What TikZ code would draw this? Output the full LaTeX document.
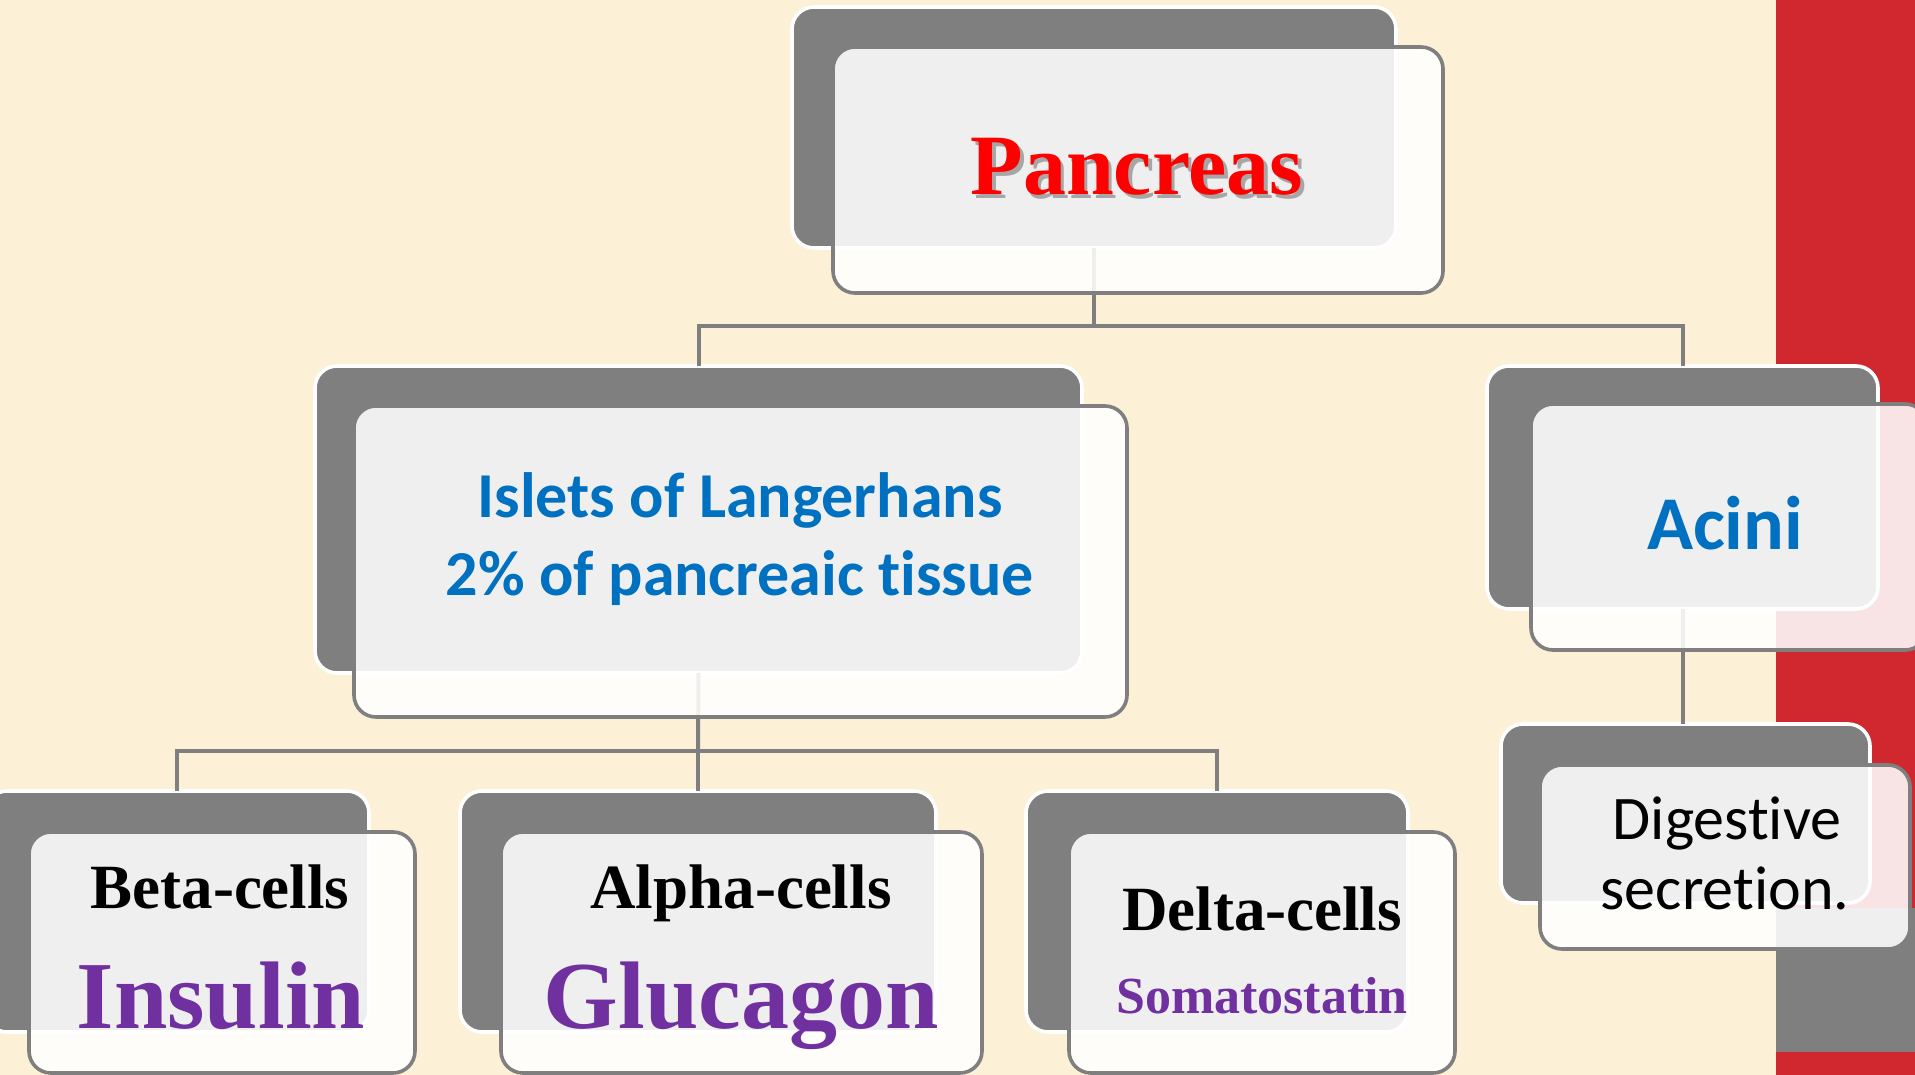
\documentclass[tikz,border=0pt]{standalone}
\usepackage{fontspec}
\setmainfont{Liberation Serif}
\newfontfamily\carlito[Ligatures={NoCommon}, RawFeature={-liga;-clig}]{Carlito}
\definecolor{bgcream}{RGB}{252,240,215}
\definecolor{bandred}{RGB}{209,39,46}
\definecolor{boxgray}{RGB}{127,127,127}
\definecolor{txtblue}{RGB}{0,112,192}
\definecolor{txtpurple}{RGB}{112,48,160}
\tikzset{
  backbox/.style={rectangle, rounded corners=11pt, fill=boxgray, draw=white, line width=1.8pt, inner sep=0pt, outer sep=0pt},
  frontbox/.style={rectangle, rounded corners=11pt, fill=white, fill opacity=0.88, draw=boxgray, line width=1.8pt, inner sep=0pt, outer sep=0pt},
  conn/.style={draw=boxgray, line width=2pt},
  lbl/.style={anchor=base, inner sep=0pt, outer sep=0pt, text opacity=1},
  timesb/.style={lbl, font=\bfseries},
}
\begin{document}
\begin{tikzpicture}[x=0.5pt, y=-0.5pt]
\useasboundingbox (0,0) rectangle (1915,1075);
% background
\fill[bgcream] (0,0) rectangle (1915,1075);
\fill[bandred] (1776,0) rectangle (1915,1075);
\fill[boxgray] (1776,908) rectangle (1915,1052);

% back boxes (positions)
\coordinate (pBc) at (1094,127.5);
\coordinate (iBc) at (698.5,519.5);
\coordinate (aBc) at (1682.5,487.5);
\coordinate (dBc) at (1685.5,813.5);
\coordinate (bBc) at (177,911.5);
\coordinate (alBc) at (698,911.5);
\coordinate (deBc) at (1217,911.5);

% back boxes
\node[backbox, minimum width=302pt, minimum height=120.5pt] (pB) at (pBc) {};
\node[backbox, minimum width=383.5pt, minimum height=153.5pt] (iB) at (iBc) {};
\node[backbox, minimum width=195.5pt, minimum height=121.5pt] (aB) at (aBc) {};
\node[backbox, minimum width=184.5pt, minimum height=89.5pt] (dB) at (dBc) {};
\node[backbox, minimum width=192pt, minimum height=120.5pt] (bB) at (bBc) {};
\node[backbox, minimum width=238pt, minimum height=120.5pt] (alB) at (alBc) {};
\node[backbox, minimum width=191pt, minimum height=120.5pt] (deB) at (deBc) {};

% connectors
\coordinate (j1) at (1094,326);
\coordinate (j2) at (698,751);
\draw[conn] (pB.south) -- (j1);
\draw[conn] (j1) -| (iB.north);
\draw[conn] (j1) -| (aB.north);
\draw[conn] (iB.south) -- (j2);
\draw[conn] (j2) -| (bB.north);
\draw[conn] (j2) -| (alB.north);
\draw[conn] (j2) -| (deB.north);
\draw[conn] (aB.south) -- (aB.south |- dB.north);

% front boxes
\node[frontbox, minimum width=305pt, minimum height=123pt] (pF) at (1138,170) {};
\node[frontbox, minimum width=386.5pt, minimum height=155.5pt] (iF) at (740.5,561.5) {};
\node[frontbox, minimum width=198pt, minimum height=123pt] (aF) at (1729,527) {};
\node[frontbox, minimum width=185pt, minimum height=92pt] (dF) at (1725,857) {};
\node[frontbox, minimum width=193pt, minimum height=120.5pt] (bF) at (222,952.5) {};
\node[frontbox, minimum width=240.5pt, minimum height=120.5pt] (alF) at (741.5,952.5) {};
\node[frontbox, minimum width=193pt, minimum height=120.5pt] (deF) at (1262,952.5) {};

% texts
\node[timesb, text=black, text opacity=0.3, font=\bfseries\fontsize{43}{43}\selectfont] (tPs) at (1140.5,198.5) {Pancreas};
\node[timesb, text=red, font=\bfseries\fontsize{43}{43}\selectfont] (tP) at (1137,195) {Pancreas};

\node[lbl, text=txtblue, font=\carlito\bfseries\fontsize{32}{32}\selectfont] (tI1) at (740,517) {Islets of Langerhans};
\node[lbl, text=txtblue, font=\carlito\bfseries\fontsize{32}{32}\selectfont] (tI2) at (740,595) {2\% of pancreaic tissue};

\node[lbl, text=txtblue, font=\carlito\bfseries\fontsize{38}{38}\selectfont] (tA) at (1725,549) {Acini};

\node[lbl, text=black, font=\carlito\fontsize{31}{31}\selectfont] (tD1) at (1727,839) {Digestive};
\node[lbl, text=black, font=\carlito\fontsize{31}{31}\selectfont] (tD2) at (1725,909) {secretion.};

\node[timesb, text=black, font=\bfseries\fontsize{31.5}{31.5}\selectfont] (tB1) at (220,908) {Beta-cells};
\node[timesb, text=txtpurple, font=\bfseries\fontsize{48}{48}\selectfont] (tB2) at (221,1028) {Insulin};

\node[timesb, text=black, font=\bfseries\fontsize{31.5}{31.5}\selectfont] (tAl1) at (741,908) {Alpha-cells};
\node[timesb, text=txtpurple, font=\bfseries\fontsize{48}{48}\selectfont] (tAl2) at (741,1028) {Glucagon};

\node[timesb, text=black, font=\bfseries\fontsize{31.5}{31.5}\selectfont] (tDe1) at (1262,930) {Delta-cells};
\node[timesb, text=txtpurple, font=\bfseries\fontsize{26}{26}\selectfont] (tDe2) at (1262,1013) {Somatostatin};
\end{tikzpicture}
\end{document}
